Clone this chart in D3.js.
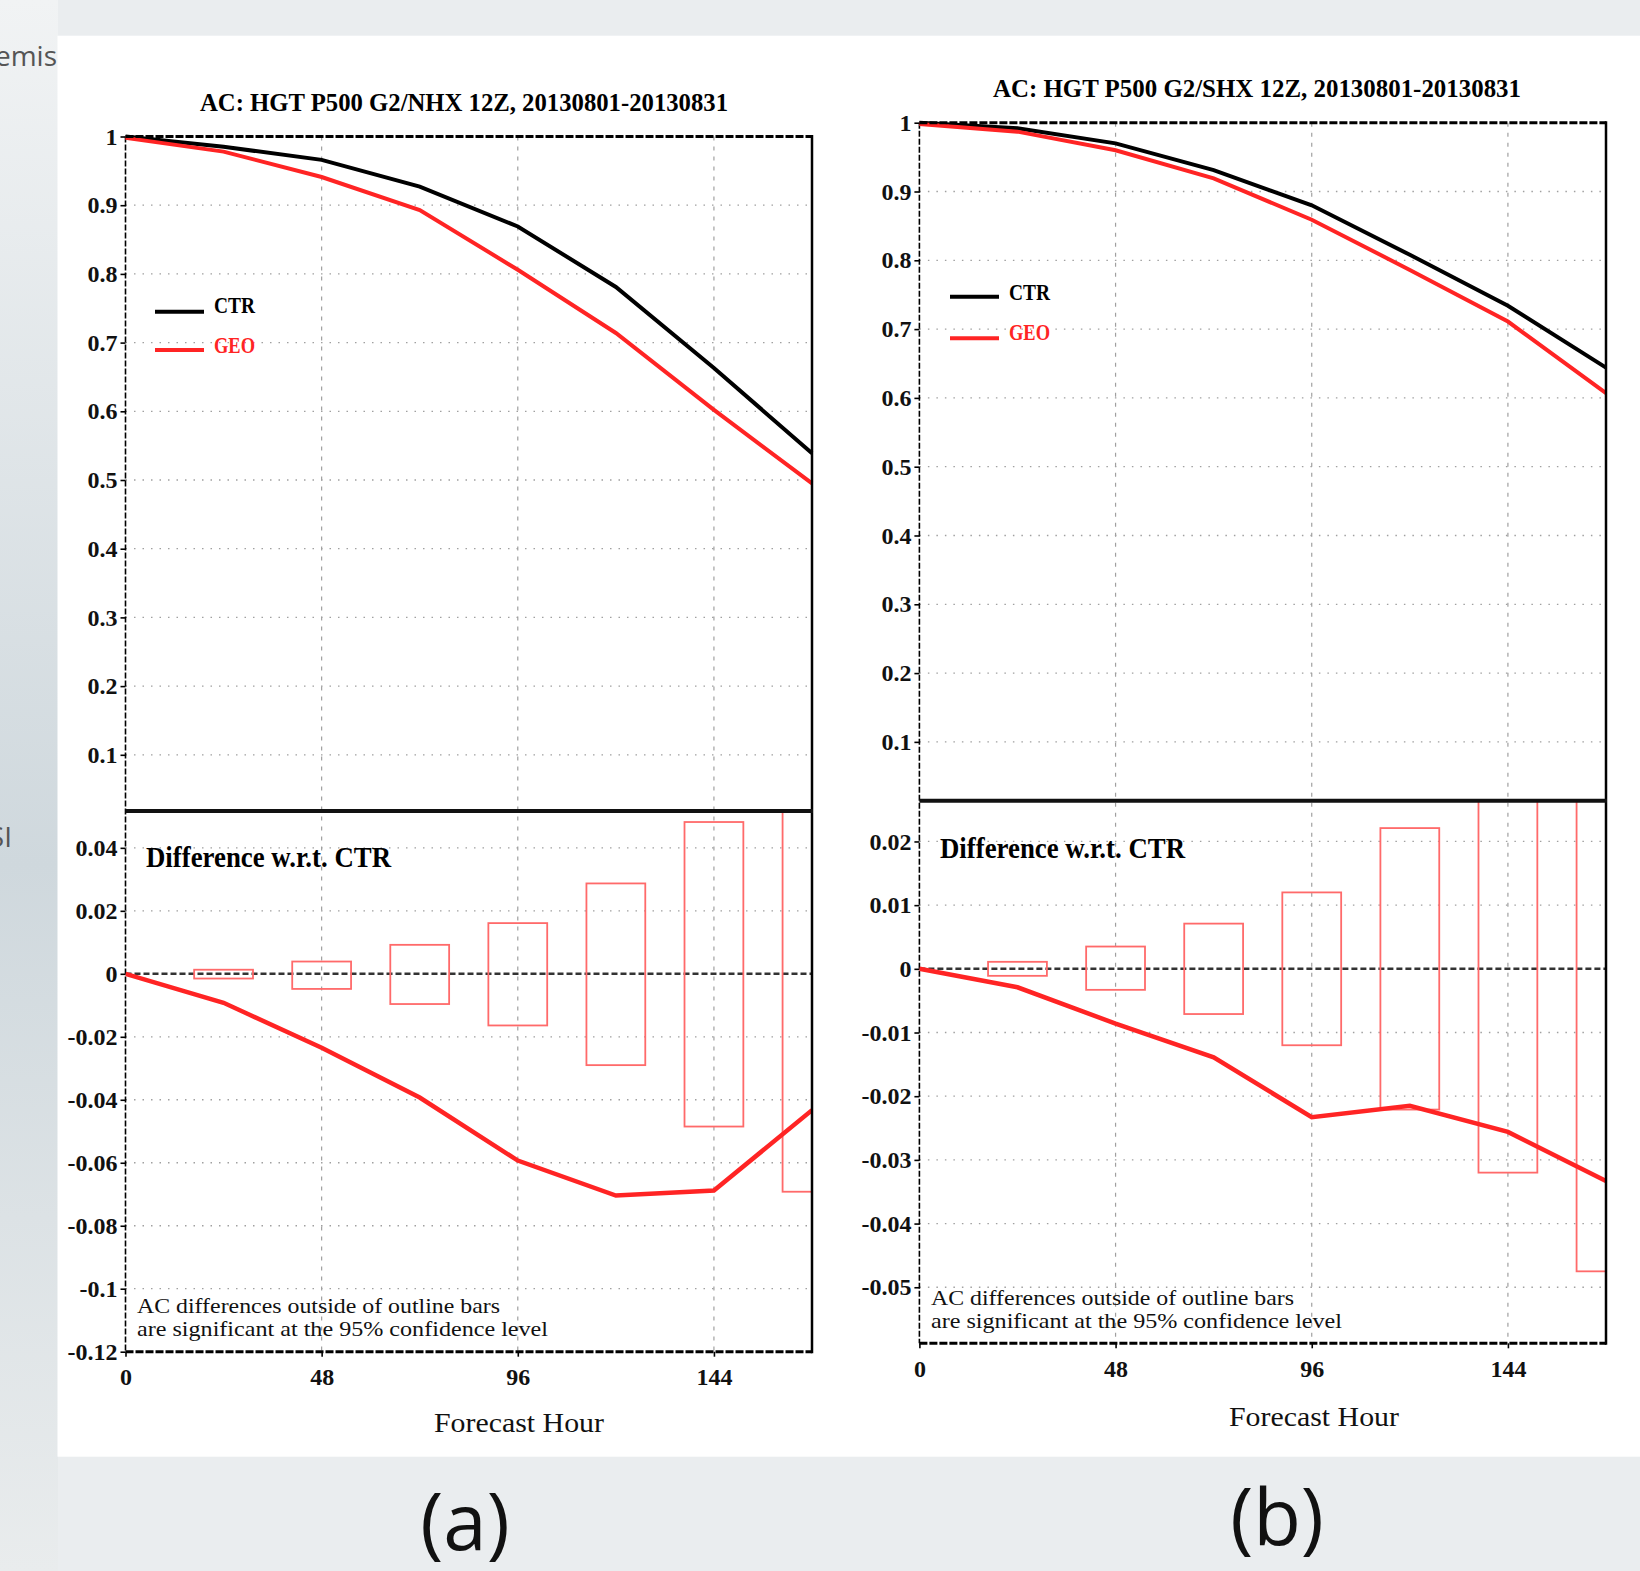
<!DOCTYPE html>
<html>
<head>
<meta charset="utf-8">
<script src="https://cdn.jsdelivr.net/npm/d3@7"></script>
<style>
  body { margin: 0; background: #e9ecee; }
  svg { display: block; }
</style>
</head>
<body>
<svg id="chart" width="1640" height="1571"></svg>
<script>
// forecast hours (x axis)
const hours = [0, 24, 48, 72, 96, 120, 144, 168];
const barHours = [24, 48, 72, 96, 120, 144, 168];
const hourTicks = [0, 48, 96, 144];
const acTicks = [0.1, 0.2, 0.3, 0.4, 0.5, 0.6, 0.7, 0.8, 0.9, 1];

// (a) NHX anomaly correlation
const nhxCtr = [1.0, 0.985, 0.966, 0.927, 0.869, 0.781, 0.663, 0.539];
const nhxGeo = [0.998, 0.978, 0.941, 0.893, 0.806, 0.714, 0.602, 0.495];
const nhxDiff = [0, -0.0092, -0.0235, -0.0393, -0.0593, -0.0704, -0.0688, -0.0433];
const nhxBarHi = [0.0013, 0.0039, 0.0092, 0.0161, 0.0287, 0.0482, 0.069];
const nhxBarLo = [-0.0015, -0.0048, -0.0096, -0.0164, -0.029, -0.0485, -0.0692];
const nhxDiffTicks = [-0.12, -0.1, -0.08, -0.06, -0.04, -0.02, 0, 0.02, 0.04];

// (b) SHX anomaly correlation
const shxCtr = [1.0, 0.992, 0.970, 0.931, 0.880, 0.808, 0.734, 0.644];
const shxGeo = [0.998, 0.987, 0.960, 0.919, 0.859, 0.786, 0.711, 0.607];
const shxDiff = [0, -0.0029, -0.0086, -0.0139, -0.0233, -0.0215, -0.0256, -0.0333];
const shxBarHi = [0.0011, 0.0035, 0.0071, 0.012, 0.0221, 0.032, 0.0475];
const shxBarLo = [-0.0011, -0.0033, -0.0071, -0.012, -0.0221, -0.032, -0.0475];
const shxDiffTicks = [-0.05, -0.04, -0.03, -0.02, -0.01, 0, 0.01, 0.02];

const titles = ["AC: HGT P500 G2/NHX 12Z, 20130801-20130831",
                "AC: HGT P500 G2/SHX 12Z, 20130801-20130831"];
const seriesNames = ["CTR", "GEO"];
const noteLines = ["AC differences outside of outline bars",
                   "are significant at the 95% confidence level"];

const RED = "#ff2424";
const BAR_RED = "#ff6a6a";
const SERIF = "'Liberation Serif', 'DejaVu Serif', serif";

const svg = d3.select("#chart");

// page background
const defs = svg.append("defs");
const bg = defs.append("linearGradient").attr("id", "leftBg")
    .attr("x1", 0).attr("y1", 0).attr("x2", 0).attr("y2", 1);
bg.append("stop").attr("offset", "0%").attr("stop-color", "#f1f3f4");
bg.append("stop").attr("offset", "55%").attr("stop-color", "#cfd8dd");
bg.append("stop").attr("offset", "100%").attr("stop-color", "#e9eced");

svg.append("rect").attr("width", 1640).attr("height", 1571).attr("fill", "#eaedef");
svg.append("rect").attr("width", 58).attr("height", 1571).attr("fill", "url(#leftBg)");

svg.append("text").attr("x", 57).attr("y", 66).attr("text-anchor", "end")
    .attr("font-family", "'Open Sans', sans-serif").attr("font-size", 28)
    .attr("fill", "#555").text("emis");
svg.append("text").attr("x", 12).attr("y", 847).attr("text-anchor", "end")
    .attr("font-family", "'Open Sans', sans-serif").attr("font-size", 28)
    .attr("fill", "#555").text("SI");

svg.append("rect").attr("x", 57.5).attr("y", 35.7)
    .attr("width", 1640 - 57.5).attr("height", 1421).attr("fill", "#fff");

const panels = [
  {left: 125.5, right: 812, top: 136.5, mid: 811, bottom: 1351.7,
   acMin: 0.0182, diffMin: -0.12, diffMax: 0.0517,
   titleX: 464, titleY: 110.5, legX: 155, ctrY: 311.7, geoY: 350, legTextY: [313, 353],
   diffX: 146, diffY: 867, noteX: 137, noteY: [1313, 1336],
   xlabX: 519, xlabY: 1432, letter: "(a)", letterX: 465, letterY: 1550},
  {left: 919.4, right: 1606, top: 122.7, mid: 800.7, bottom: 1343.3,
   acMin: 0.0145, diffMin: -0.0588, diffMax: 0.0264,
   titleX: 1257, titleY: 97, legX: 950, ctrY: 296.7, geoY: 338.3, legTextY: [300, 339.5],
   diffX: 940, diffY: 858, noteX: 931, noteY: [1305, 1328],
   xlabX: 1314, xlabY: 1426, letter: "(b)", letterX: 1277, letterY: 1545}
];

const barHalf = 7.2;

function drawPanel(p, idx, ctr, geo, diff, barHi, barLo, diffTicks) {
  const g = svg.append("g");
  const x = d3.scaleLinear().domain([0, 168]).range([p.left, p.right]);
  const yTop = d3.scaleLinear().domain([p.acMin, 1]).range([p.mid, p.top]);
  const yBot = d3.scaleLinear().domain([p.diffMin, p.diffMax]).range([p.bottom, p.mid]);

  const clipId = "clip" + idx;
  defs.append("clipPath").attr("id", clipId).append("rect")
      .attr("x", p.left).attr("y", p.mid)
      .attr("width", p.right - p.left).attr("height", p.bottom - p.mid);

  // vertical dashed grid
  g.selectAll(".vgrid").data(hourTicks.slice(1)).enter().append("line")
      .attr("x1", d => x(d)).attr("x2", d => x(d))
      .attr("y1", p.top).attr("y2", p.bottom)
      .attr("stroke", "#a0a0a0").attr("stroke-width", 1.2)
      .attr("stroke-dasharray", "4,6");

  // dotted horizontal grid
  g.selectAll(".hgridTop").data(acTicks.filter(d => d < 1)).enter().append("line")
      .attr("x1", p.left).attr("x2", p.right)
      .attr("y1", d => yTop(d)).attr("y2", d => yTop(d))
      .attr("stroke", "#a0a0a0").attr("stroke-width", 1.3)
      .attr("stroke-dasharray", "1.5,7");
  g.selectAll(".hgridBot").data(diffTicks.filter(d => d !== 0 && d > p.diffMin)).enter().append("line")
      .attr("x1", p.left).attr("x2", p.right)
      .attr("y1", d => yBot(d)).attr("y2", d => yBot(d))
      .attr("stroke", "#a0a0a0").attr("stroke-width", 1.3)
      .attr("stroke-dasharray", "1.5,7");

  // axes
  const axTop = g.append("g").attr("transform", `translate(${p.left},0)`)
      .call(d3.axisLeft(yTop).tickValues(acTicks).tickSize(5).tickPadding(3).tickFormat(String));
  const axBot = g.append("g").attr("transform", `translate(${p.left},0)`)
      .call(d3.axisLeft(yBot).tickValues(diffTicks).tickSize(5).tickPadding(3).tickFormat(String));
  const axX = g.append("g").attr("transform", `translate(0,${p.bottom})`)
      .call(d3.axisBottom(x).tickValues(hourTicks).tickSize(5).tickPadding(11.5).tickFormat(String));
  [axTop, axBot, axX].forEach(a => {
    a.select(".domain").remove();
    a.selectAll(".tick line").attr("stroke", "#000").attr("stroke-width", 1.6);
    a.selectAll("text").attr("font-family", SERIF).attr("font-weight", "bold")
        .attr("font-size", 24).attr("fill", "#111");
  });

  // left axis line (dashed)
  g.append("line").attr("x1", p.left).attr("x2", p.left)
      .attr("y1", p.top).attr("y2", p.bottom)
      .attr("stroke", "#000").attr("stroke-width", 1.6).attr("stroke-dasharray", "6,2");

  // zero line
  g.append("line").attr("x1", p.left).attr("x2", p.right)
      .attr("y1", yBot(0)).attr("y2", yBot(0))
      .attr("stroke", "#333").attr("stroke-width", 2.5).attr("stroke-dasharray", "6,3");

  // significance bars
  g.append("g").attr("clip-path", `url(#${clipId})`)
    .selectAll("rect").data(barHours).enter().append("rect")
      .attr("x", d => x(d - barHalf))
      .attr("width", d => x(d + barHalf) - x(d - barHalf))
      .attr("y", (d, i) => yBot(barHi[i]))
      .attr("height", (d, i) => yBot(barLo[i]) - yBot(barHi[i]))
      .attr("fill", "none").attr("stroke", BAR_RED).attr("stroke-width", 1.8);

  // AC curves
  const lineTop = d3.line().x((d, i) => x(hours[i])).y(d => yTop(d));
  g.append("path").datum(ctr).attr("d", lineTop)
      .attr("fill", "none").attr("stroke", "#000").attr("stroke-width", 4);
  g.append("path").datum(geo).attr("d", lineTop)
      .attr("fill", "none").attr("stroke", RED).attr("stroke-width", 4);

  // difference curve
  const lineBot = d3.line().x((d, i) => x(hours[i])).y(d => yBot(d));
  g.append("path").datum(diff).attr("d", lineBot).attr("clip-path", `url(#${clipId})`)
      .attr("fill", "none").attr("stroke", RED).attr("stroke-width", 4.5);

  // frame
  g.append("line").attr("x1", p.left).attr("x2", p.right).attr("y1", p.top).attr("y2", p.top)
      .attr("stroke", "#000").attr("stroke-width", 3).attr("stroke-dasharray", "8,2");
  g.append("line").attr("x1", p.left).attr("x2", p.right).attr("y1", p.bottom).attr("y2", p.bottom)
      .attr("stroke", "#000").attr("stroke-width", 3).attr("stroke-dasharray", "8,2");
  g.append("line").attr("x1", p.right).attr("x2", p.right).attr("y1", p.top - 1.5).attr("y2", p.bottom + 1.5)
      .attr("stroke", "#000").attr("stroke-width", 2.5);
  g.append("line").attr("x1", p.left).attr("x2", p.right + 1).attr("y1", p.mid).attr("y2", p.mid)
      .attr("stroke", "#111").attr("stroke-width", 4);

  // title
  g.append("text").attr("x", p.titleX).attr("y", p.titleY).attr("text-anchor", "middle")
      .attr("font-family", SERIF).attr("font-weight", "bold").attr("font-size", 25)
      .attr("textLength", 528).attr("lengthAdjust", "spacingAndGlyphs")
      .text(titles[idx]);

  // legend
  const legColors = ["#000", RED];
  const legY = [p.ctrY, p.geoY];
  seriesNames.forEach((name, i) => {
    g.append("line").attr("x1", p.legX).attr("x2", p.legX + 49)
        .attr("y1", legY[i]).attr("y2", legY[i])
        .attr("stroke", legColors[i]).attr("stroke-width", 4);
    g.append("text").attr("x", p.legX + 59).attr("y", p.legTextY[i])
        .attr("font-family", SERIF).attr("font-weight", "bold").attr("font-size", 24)
        .attr("textLength", 41).attr("lengthAdjust", "spacingAndGlyphs")
        .attr("fill", legColors[i]).text(name);
  });

  // panel labels
  g.append("text").attr("x", p.diffX).attr("y", p.diffY)
      .attr("font-family", SERIF).attr("font-weight", "bold").attr("font-size", 29)
      .attr("textLength", 245).attr("lengthAdjust", "spacingAndGlyphs")
      .text("Difference w.r.t. CTR");
  const noteLen = [363, 411];
  noteLines.forEach((t, i) => {
    g.append("text").attr("x", p.noteX).attr("y", p.noteY[i])
        .attr("font-family", SERIF).attr("font-size", 21).attr("fill", "#111")
        .attr("textLength", noteLen[i]).attr("lengthAdjust", "spacingAndGlyphs")
        .text(t);
  });
  g.append("text").attr("x", p.xlabX).attr("y", p.xlabY).attr("text-anchor", "middle")
      .attr("font-family", SERIF).attr("font-size", 27).attr("fill", "#111")
      .attr("textLength", 170).attr("lengthAdjust", "spacingAndGlyphs")
      .text("Forecast Hour");

  svg.append("text").attr("x", p.letterX).attr("y", p.letterY).attr("text-anchor", "middle")
      .attr("font-family", "'Open Sans', sans-serif").attr("font-size", 78).attr("fill", "#111")
      .text(p.letter);
}

drawPanel(panels[0], 0, nhxCtr, nhxGeo, nhxDiff, nhxBarHi, nhxBarLo, nhxDiffTicks);
drawPanel(panels[1], 1, shxCtr, shxGeo, shxDiff, shxBarHi, shxBarLo, shxDiffTicks);
</script>
</body>
</html>
